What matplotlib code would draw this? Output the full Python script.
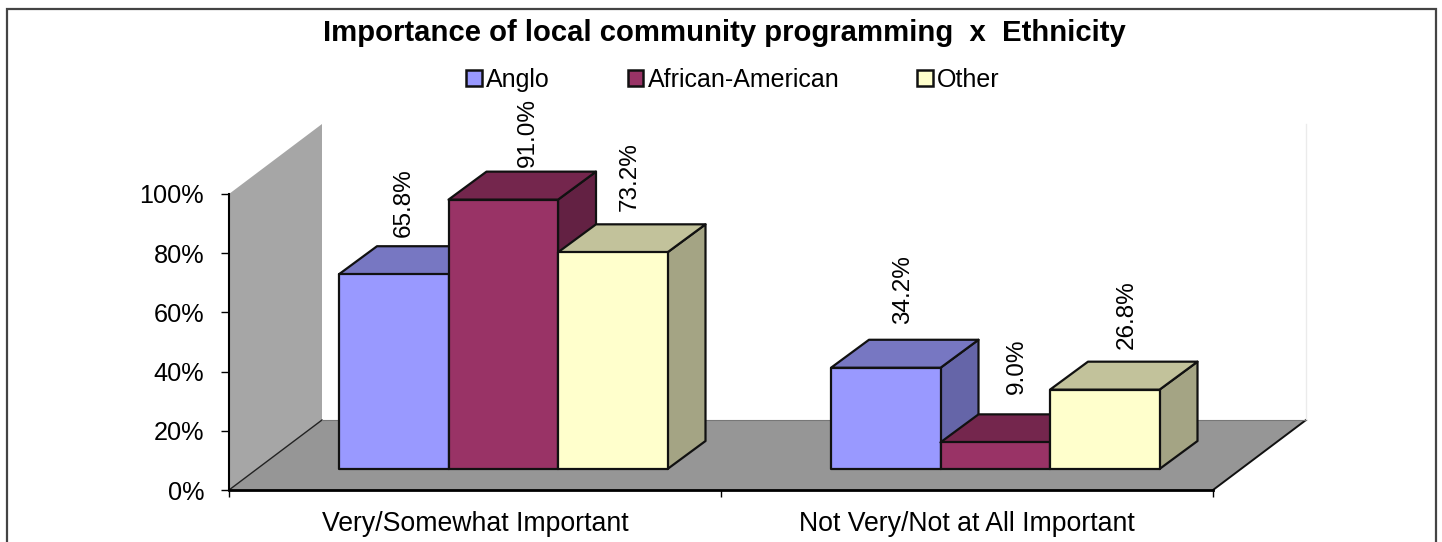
import matplotlib

matplotlib.use("Agg")
import matplotlib.pyplot as plt
from matplotlib.patches import Patch, Polygon, Rectangle

plt.rcParams["font.family"] = ["Liberation Sans", "DejaVu Sans"]

TITLE = "Importance of local community programming  x  Ethnicity"
CATEGORIES = ["Very/Somewhat Important", "Not Very/Not at All Important"]
SERIES = ["Anglo", "African-American", "Other"]
ANGLO = [65.8, 34.2]
AFRICAN_AMERICAN = [91.0, 9.0]
OTHER = [73.2, 26.8]
Y_TICKS = [0, 20, 40, 60, 80, 100]

FRONT = ["#9999FF", "#993366", "#FFFFCC"]
TOP = ["#7777C2", "#74264D", "#C2C29B"]
SIDE = ["#6565A8", "#632143", "#A4A484"]

W, H = 1442, 542
PX_X = 492  # pixels per category
PX_Y = 2.96  # pixels per percent

# oblique projection, in data units
FLOOR_DX, FLOOR_DY = 93 / PX_X, 70 / PX_Y
BAR_DX, BAR_DY = 38 / PX_X, 28 / PX_Y
BASE_Y = 21 / PX_Y
BAR_START = 110 / PX_X
BAR_WIDTH = 109.5 / PX_X

# label nudges in pixels, (x, y) from the back centre of the bar top
NUDGE = [[(-28, 9), (-13, 5), (-21, 13)], [(-21, 16), (-16, 20), (-16, 13)]]

fig = plt.figure(figsize=(W / 100, H / 100), dpi=100)
ax = fig.add_axes([229 / W, (H - 490) / H, 984 / W, 296 / H])
ax.set_xlim(0, 2)
ax.set_ylim(0, 100)
ax.patch.set_visible(False)

# chart frame, runs off the bottom of the picture
fig.add_artist(
    Rectangle((7 / W, -0.1), 1429 / W, 1.1 - 9 / H, transform=fig.transFigure,
              fill=False, ec="#444444", lw=1.6)
)

# walls and floor
ax.add_patch(Polygon([(0, 0), (FLOOR_DX, FLOOR_DY), (FLOOR_DX, 100 + FLOOR_DY), (0, 100)],
                     fc="#A6A6A6", ec="none", clip_on=False, zorder=1))
ax.add_patch(Polygon([(0, 0), (2, 0), (2 + FLOOR_DX, FLOOR_DY), (FLOOR_DX, FLOOR_DY)],
                     fc="#969696", ec="none", clip_on=False, zorder=1))
ax.plot([0, FLOOR_DX], [0, FLOOR_DY], color="#222222", lw=1, clip_on=False, zorder=2)
ax.plot([2, 2 + FLOOR_DX], [0, FLOOR_DY], color="#111111", lw=1.4, clip_on=False, zorder=2)
ax.plot([2 + FLOOR_DX] * 2, [FLOOR_DY, 100 + FLOOR_DY], color="#EBEBEB", lw=1,
        clip_on=False, zorder=2)
ax.plot([FLOOR_DX, 2 + FLOOR_DX], [FLOOR_DY, FLOOR_DY], color="#777777", lw=0.8,
        clip_on=False, zorder=2)

z = 3
for c in range(len(CATEGORIES)):
    for s, values in enumerate([ANGLO, AFRICAN_AMERICAN, OTHER]):
        v = values[c]
        x0 = c + BAR_START + s * BAR_WIDTH
        x1 = x0 + BAR_WIDTH
        y0, y1 = BASE_Y, BASE_Y + v
        faces = [
            ([(x1, y0), (x1 + BAR_DX, y0 + BAR_DY), (x1 + BAR_DX, y1 + BAR_DY), (x1, y1)], SIDE[s]),
            ([(x0, y1), (x1, y1), (x1 + BAR_DX, y1 + BAR_DY), (x0 + BAR_DX, y1 + BAR_DY)], TOP[s]),
            ([(x0, y0), (x1, y0), (x1, y1), (x0, y1)], FRONT[s]),
        ]
        for pts, col in faces:
            ax.add_patch(Polygon(pts, fc=col, ec="#111111", lw=1.6, joinstyle="round",
                                 clip_on=False, zorder=z))
            z += 1
        nx, ny = NUDGE[c][s]
        ax.annotate(f"{v:.1f}%", ((x0 + x1) / 2 + BAR_DX, y1 + BAR_DY), xytext=(nx, ny),
                    textcoords="offset pixels", rotation=90, ha="center", va="bottom",
                    fontsize=17.5, color="black", annotation_clip=False, zorder=50)

# axes
for side in ["top", "right"]:
    ax.spines[side].set_visible(False)
ax.spines["left"].set_linewidth(1.5)
ax.spines["bottom"].set_linewidth(2)
ax.spines["left"].set_zorder(40)
ax.spines["bottom"].set_zorder(40)
ax.set_yticks(Y_TICKS)
ax.set_yticklabels([f"{t}%" for t in Y_TICKS], fontsize=18.2)
ax.tick_params(axis="y", length=6, width=1, pad=12)
ax.set_xticks([0, 1, 2])
ax.set_xticklabels([])
ax.tick_params(axis="x", which="major", length=5, width=1)
ax.set_xticks([0.5, 1.5], minor=True)
ax.set_xticklabels(CATEGORIES, minor=True, fontsize=19.2)
ax.tick_params(axis="x", which="minor", length=0, pad=15)

fig.text(724 / W, 1 - 33 / H, TITLE, ha="center", va="center", fontsize=21.1, fontweight="bold")

handles = [Patch(fc=f, ec="#111111", lw=1.8) for f in FRONT]
fig.legend(handles, SERIES, loc="center", bbox_to_anchor=(733 / W, 1 - 80 / H), ncol=3,
           frameon=False, fontsize=18, handlelength=0.62, handleheight=0.62,
           handletextpad=0.18, columnspacing=3.11, borderpad=0)

fig.savefig("out.png", dpi=100)
